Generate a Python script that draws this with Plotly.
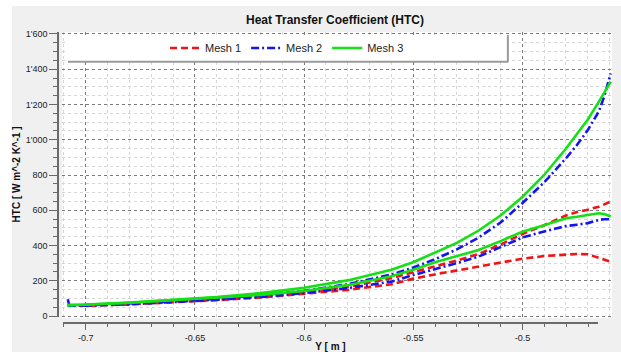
import plotly.graph_objects as go

# Position along the wall, Y [m]
y_pos = [-0.7082, -0.7075, -0.70, -0.68, -0.66, -0.64, -0.62, -0.60, -0.58, -0.56,
         -0.55, -0.54, -0.53, -0.52, -0.51, -0.50, -0.49, -0.48, -0.475, -0.47,
         -0.465, -0.4625, -0.4595]

# HTC [W m^-2 K^-1], two sides of the wall for each mesh
mesh1_side_a = [58, 58, 60, 68, 80, 95, 112, 135, 165, 215, 248, 280, 315, 352, 405,
                465, 515, 570, 590, 603, 620, 633, 650]
mesh1_side_b = [58, 58, 58, 66, 77, 90, 105, 125, 148, 180, 212, 236, 258, 280, 302,
                325, 340, 350, 352, 350, 330, 320, 308]
mesh2_side_a = [95, 60, 60, 70, 83, 98, 117, 143, 180, 235, 275, 322, 378, 445, 530,
                640, 758, 895, 970, 1055, 1160, 1245, 1377]
mesh2_side_b = [58, 58, 59, 66, 78, 92, 108, 130, 158, 195, 232, 265, 300, 337, 390,
                445, 480, 510, 518, 527, 545, 549, 549]
mesh3_side_a = [62, 62, 65, 76, 91, 108, 130, 160, 202, 262, 305, 358, 415, 485, 570,
                675, 800, 950, 1030, 1115, 1215, 1265, 1330]
mesh3_side_b = [62, 62, 64, 75, 89, 103, 120, 142, 175, 225, 262, 305, 340, 375, 425,
                478, 515, 555, 563, 572, 583, 578, 565]

series_names = ["Mesh 1", "Mesh 2", "Mesh 3"]
series_colors = ["#f01414", "#1414f0", "#14e014"]
series_dash = ["7px,4px", "8px,3px,2px,3px", "solid"]
series_sides = [(mesh1_side_a, mesh1_side_b),
                (mesh2_side_a, mesh2_side_b),
                (mesh3_side_a, mesh3_side_b)]

y_tickvals = [0, 200, 400, 600, 800, 1000, 1200, 1400, 1600]
y_ticktext = ["0", "200", "400", "600", "800", "1'000", "1'200", "1'400", "1'600"]
x_tickvals = [-0.7, -0.65, -0.6, -0.55, -0.5]
x_ticktext = ["-0.7", "-0.65", "-0.6", "-0.55", "-0.5"]

FONT = "Liberation Sans"
MAJOR_GRID = "#7a7a7a"
MINOR_GRID = "#d6d6d6"
AXIS_COL = "#6a6a6a"

fig = go.Figure()

for name, color, dash, (side_a, side_b) in zip(series_names, series_colors,
                                               series_dash, series_sides):
    xs = list(y_pos) + [None] + list(y_pos)
    ys = list(side_a) + [None] + list(side_b)
    fig.add_trace(go.Scatter(
        x=xs, y=ys, mode="lines", name=name,
        line=dict(color=color, width=2.6, dash=dash),
        connectgaps=False,
    ))

# empty trace that carries the detached axis lines
fig.add_trace(go.Scatter(x=[None], y=[None], xaxis="x2", yaxis="y2",
                         showlegend=False, hoverinfo="skip"))

fig.update_layout(
    width=621, height=352,
    margin=dict(l=58, r=9, t=32, b=29, autoexpand=False),
    paper_bgcolor="#f0f0f0",
    plot_bgcolor="rgba(0,0,0,0)",
    font=dict(family=FONT, size=9, color="#1a1a1a"),
    title=dict(text="<b>Heat Transfer Coefficient (HTC)</b>",
               font=dict(family=FONT, size=12, color="#111111"),
               xref="paper", x=0.5, xanchor="center",
               yref="container", y=1 - 20 / 352, yanchor="middle"),
    xaxis=dict(
        domain=[0.0072, 1], range=[-0.71085, -0.45893], automargin=False,
        tickmode="linear", tick0=-0.7, dtick=0.05,
        showgrid=True, gridcolor=MAJOR_GRID, griddash="dot", gridwidth=1,
        minor=dict(tickmode="linear", tick0=-0.7, dtick=0.01, showgrid=True,
                   gridcolor=MINOR_GRID, griddash="dot", gridwidth=1),
        showticklabels=False, ticks="", zeroline=False, showline=False,
    ),
    yaxis=dict(
        domain=[0.0172, 1], range=[-11.3, 1611.3], automargin=False,
        tickmode="linear", tick0=0, dtick=200,
        showgrid=True, gridcolor=MAJOR_GRID, griddash="dot", gridwidth=1,
        minor=dict(tickmode="linear", tick0=0, dtick=50, showgrid=True,
                   gridcolor=MINOR_GRID, griddash="dot", gridwidth=1),
        showticklabels=False, ticks="", zeroline=False, showline=False,
    ),
    xaxis2=dict(
        domain=[0.0096, 0.9742], range=[-0.71026, -0.46557], automargin=False,
        anchor="free", position=0, side="bottom",
        showline=True, linecolor=AXIS_COL, linewidth=1.5,
        tickmode="array", tickvals=x_tickvals, ticktext=x_ticktext,
        ticks="outside", ticklen=6, tickcolor=AXIS_COL, tickwidth=1,
        minor=dict(tickmode="linear", tick0=-0.7, dtick=0.01,
                   ticks="outside", ticklen=3, tickcolor=AXIS_COL, showgrid=False),
        showgrid=False, zeroline=False,
        tickfont=dict(family=FONT, size=9, color="#222222"),
        title=dict(text="<b>Y [ m ]</b>", standoff=2,
                   font=dict(family=FONT, size=10, color="#111111")),
    ),
    yaxis2=dict(
        domain=[0.0216, 1], range=[-4.0, 1611.3], automargin=False,
        anchor="free", position=0, side="left",
        showline=True, linecolor=AXIS_COL, linewidth=1.5,
        tickmode="array", tickvals=y_tickvals, ticktext=y_ticktext,
        ticks="outside", ticklen=8, tickcolor=AXIS_COL, tickwidth=1,
        minor=dict(tickmode="linear", tick0=0, dtick=50,
                   ticks="outside", ticklen=4, tickcolor=AXIS_COL, showgrid=False),
        showgrid=False, zeroline=False,
        tickfont=dict(family=FONT, size=9, color="#222222"),
        title=dict(text="<b>HTC [ W m^-2 K^-1 ]</b>", standoff=2,
                   font=dict(family=FONT, size=10, color="#111111")),
    ),
    showlegend=True,
    legend=dict(
        orientation="h", x=0.4134, xanchor="center", y=0.945, yanchor="middle",
        bgcolor="rgba(0,0,0,0)", borderwidth=0,
        font=dict(family=FONT, size=11, color="#222222"),
        itemwidth=30,
    ),
)

shapes = [
    # white frame strips around the grey panel
    dict(type="rect", xref="paper", yref="paper", x0=-0.11, x1=1.02,
         y0=1.0893, y1=1.12, fillcolor="white", line=dict(width=0), layer="below"),
    dict(type="rect", xref="paper", yref="paper", x0=-0.11, x1=-0.083,
         y0=-0.11, y1=1.12, fillcolor="white", line=dict(width=0), layer="below"),
    # white plotting area
    dict(type="rect", xref="x domain", yref="y domain", x0=0, x1=1, y0=0, y1=1,
         fillcolor="white", line=dict(width=0), layer="below"),
    # legend panel with shadowed edges
    dict(type="rect", xref="paper", yref="paper", x0=0.018, x1=0.812,
         y0=0.898, y1=0.99, fillcolor="white", line=dict(width=0), layer="above"),
    dict(type="line", xref="paper", yref="paper", x0=0.018, x1=0.813,
         y0=0.898, y1=0.898, line=dict(color="#9a9a9a", width=2), layer="above"),
    dict(type="line", xref="paper", yref="paper", x0=0.812, x1=0.812,
         y0=0.898, y1=0.99, line=dict(color="#9a9a9a", width=2), layer="above"),
]
fig.update_layout(shapes=shapes)

fig.write_html("out.html")
